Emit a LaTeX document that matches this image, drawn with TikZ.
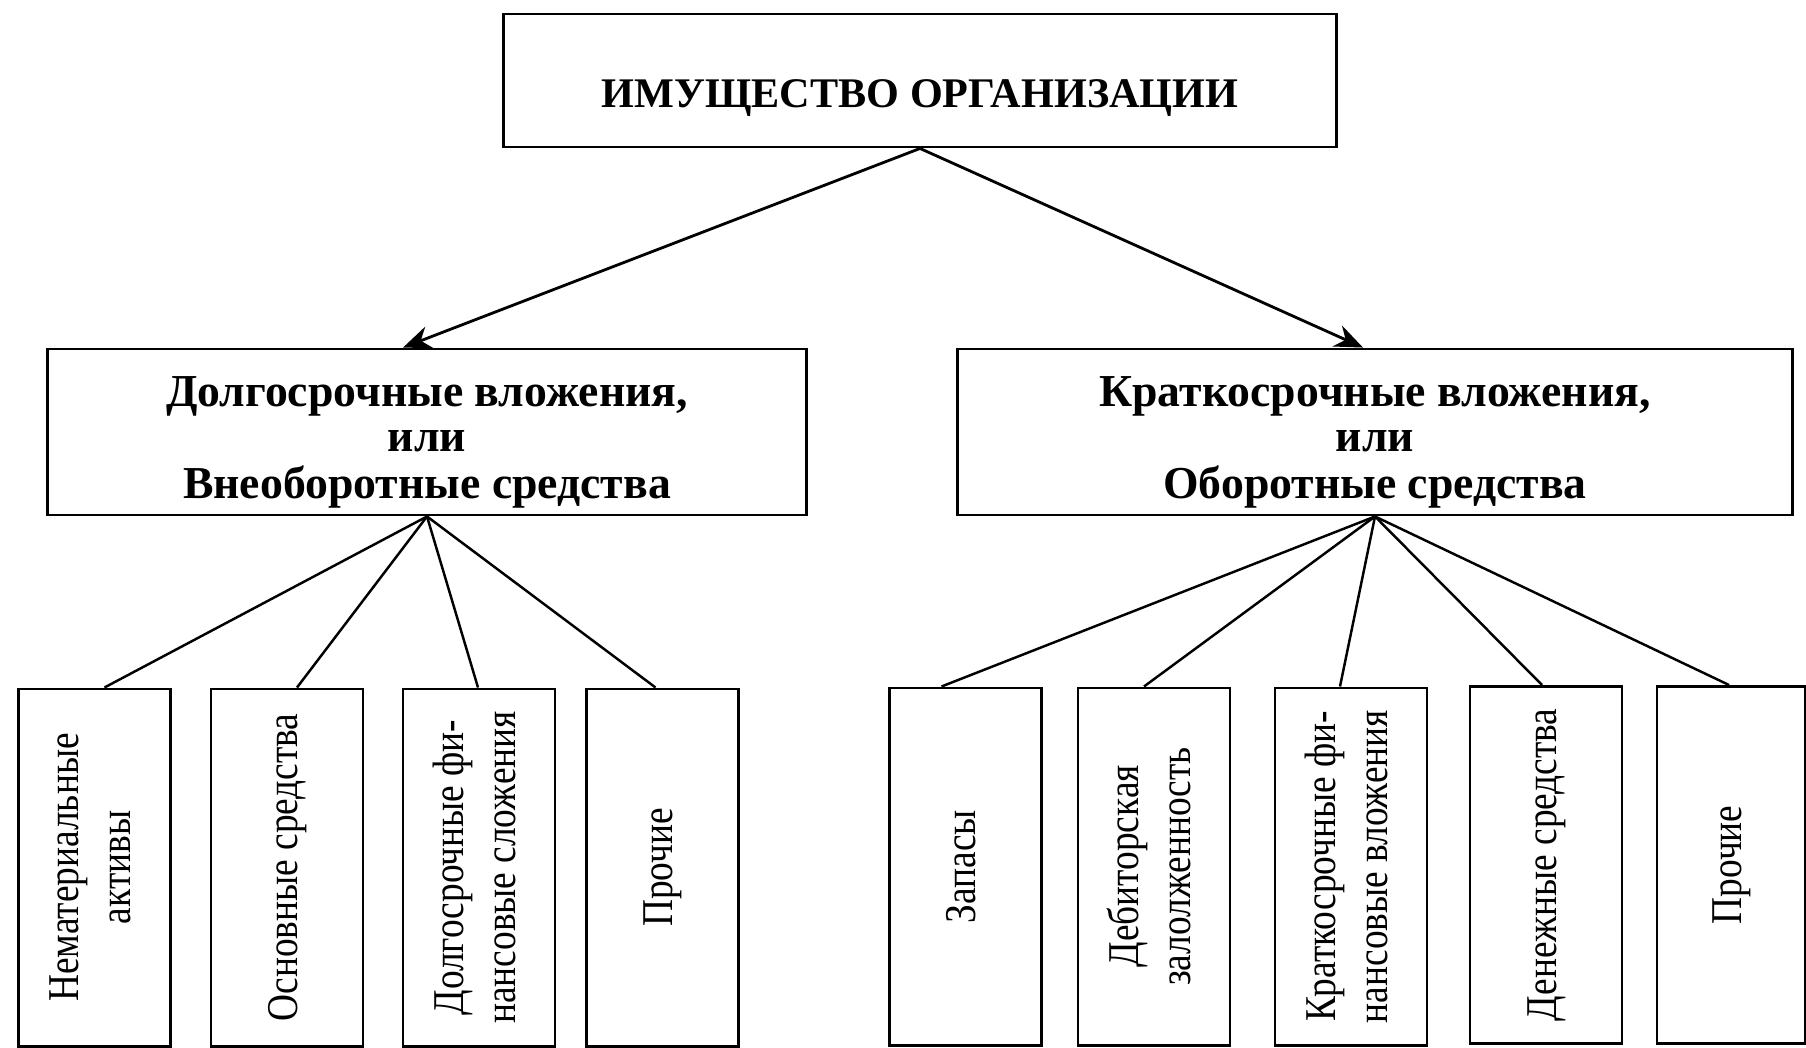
\documentclass[tikz,border=0pt]{standalone}
\usepackage{fontspec}
\setmainfont{Liberation Serif}
\usetikzlibrary{arrows.meta,calc}

% вертикальная подпись в нижних прямоугольниках
\newcommand{\vlabel}[1]{\rotatebox{90}{\scalebox{0.85}[1]{\begin{tabular}{@{}c@{}}#1\end{tabular}}}}
% подпись из трёх строк, чуть ниже центра
\newcommand{\mlabel}[1]{\raisebox{-1.1mm}[\height][\depth]{\begin{tabular}{@{}c@{}}#1\end{tabular}}}

\begin{document}
\begin{tikzpicture}[>={Stealth[length=8pt, width=6.5pt]}, x=0.01cm, y=-0.01cm, line width=0.8pt,
    topbox/.style={draw, minimum width=8.32cm, minimum height=1.33cm, inner sep=0pt,
        font=\fontsize{12}{14}\selectfont\bfseries, text height=5.5mm, text depth=0.2mm},
    midbox/.style={draw, minimum height=1.66cm, inner sep=0pt,
        font=\fontsize{13}{13}\selectfont\bfseries},
    leafbox/.style={draw, minimum width=1.52cm, minimum height=3.57cm, inner sep=0pt,
        font=\fontsize{12.5}{14.7}\selectfont}]

    \useasboundingbox (0,0) rectangle (1806,1047);

    % --- верхний уровень ---
    \node[topbox] (org) at (920, 80.5) {ИМУЩЕСТВО ОРГАНИЗАЦИИ};

    % --- второй уровень ---
    \node[midbox, minimum width=7.58cm] (long)  at (427, 432)
        {\mlabel{Долгосрочные вложения,\\или\\Внеоборотные средства}};
    \node[midbox, minimum width=8.34cm] (short) at (1375, 432)
        {\mlabel{Краткосрочные вложения,\\или\\Оборотные средства}};

    \draw[->] (org.south) -- ($(long.north)+(-24,0)$);
    \draw[->] (org.south) -- ($(short.north)+(-12,0)$);

    % --- внеоборотные средства ---
    \node[leafbox] (l1) at (94.5, 867.5) {\vlabel{Нематериальные\\активы}};
    \node[leafbox] (l2) at (287, 867.5)  {\vlabel{Основные средства}};
    \node[leafbox] (l3) at (479, 867.5)  {\vlabel{Долгосрочные фи-\\нансовые сложения}};
    \node[leafbox] (l4) at (662.5, 867.5) {\vlabel{Прочие}};

    % --- оборотные средства ---
    \node[leafbox] (r1) at (965.5, 866.5) {\vlabel{Запасы}};
    \node[leafbox] (r2) at (1154, 866.5)  {\vlabel{Дебиторская\\залолженность}};
    \node[leafbox] (r3) at (1351, 866.5)  {\vlabel{Краткосрочные фи-\\нансовые вложения}};
    \node[leafbox] (r4) at (1546, 865)    {\vlabel{Денежные средства}};
    \node[leafbox, minimum width=1.48cm] (r5) at (1731, 865) {\vlabel{Прочие}};

    % --- связи ---
    \foreach \leaf/\dx in {l1/10, l2/10, l3/-1, l4/-7}
        \draw[line width=0.7pt] (long.south) -- ($(\leaf.north)+(\dx,0)$);
    \foreach \leaf/\dx in {r1/-24, r2/-10, r3/-11, r4/-4, r5/-2}
        \draw[line width=0.7pt] (short.south) -- ($(\leaf.north)+(\dx,0)$);

\end{tikzpicture}
\end{document}
